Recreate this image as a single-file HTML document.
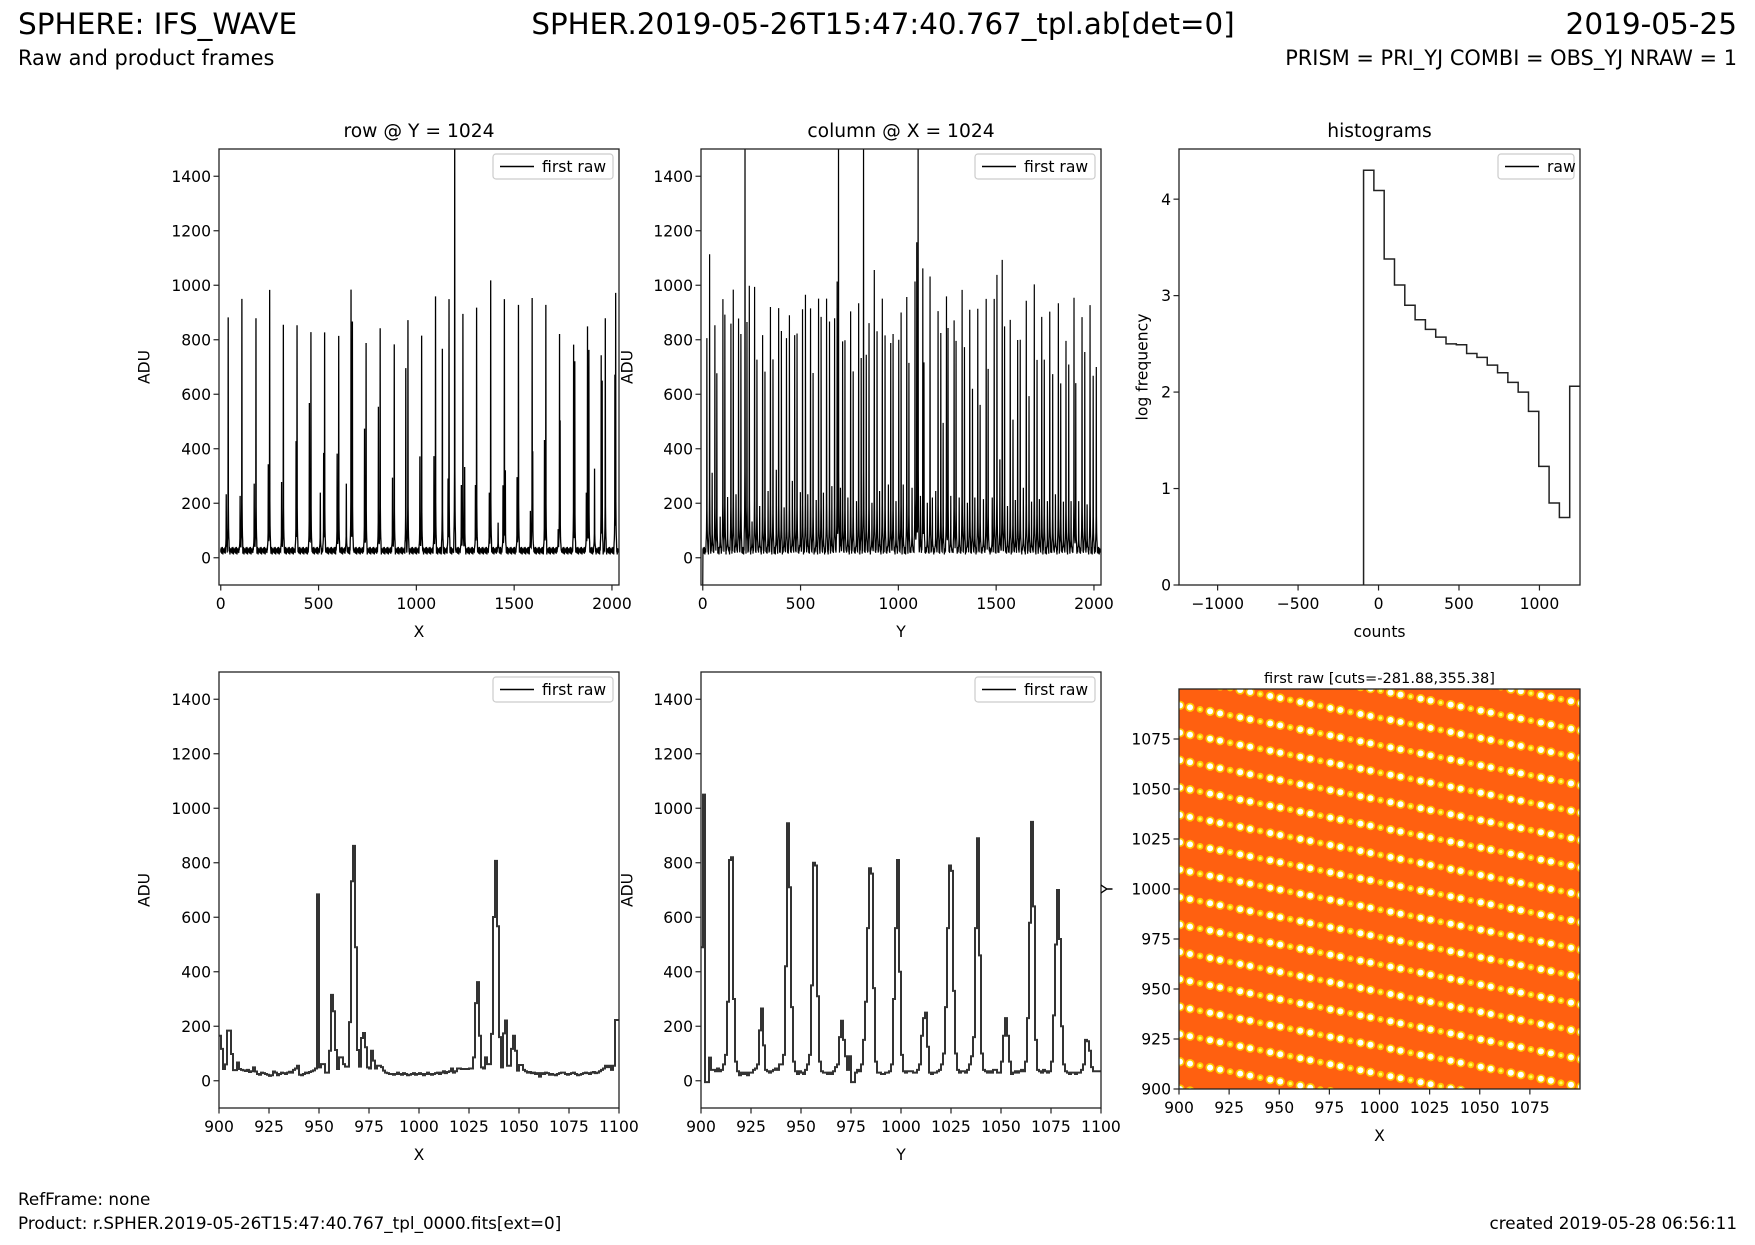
<!DOCTYPE html>
<html><head><meta charset="utf-8"><style>
html,body{margin:0;padding:0;background:#fff}
svg{display:block;font-family:"DejaVu Sans","Liberation Sans",sans-serif}
</style></head><body>
<svg id="fig" width="1755" height="1245" viewBox="0 0 1755 1245" xmlns="http://www.w3.org/2000/svg">
<rect width="1755" height="1245" fill="#fff"/>
<text x="18" y="34" font-size="29.5">SPHERE: IFS_WAVE</text>
<text x="883" y="34" font-size="29.3" text-anchor="middle">SPHER.2019-05-26T15:47:40.767_tpl.ab[det=0]</text>
<text x="1737" y="34" font-size="29.5" text-anchor="end">2019-05-25</text>
<text x="18" y="65" font-size="20.9">Raw and product frames</text>
<text x="1737" y="65" font-size="20.9" text-anchor="end">PRISM = PRI_YJ COMBI = OBS_YJ NRAW = 1</text>
<text x="18" y="1205" font-size="16.8">RefFrame: none</text>
<text x="18" y="1229" font-size="16.8">Product: r.SPHER.2019-05-26T15:47:40.767_tpl_0000.fits[ext=0]</text>
<text x="1737" y="1229" font-size="16.8" text-anchor="end">created 2019-05-28 06:56:11</text>
<g id="plots"></g>
</svg>
<script>
// ---------- data ----------
const rowPeakX = [38,108,180,250,320,390,461,531,603,666,743,815,887,957,1027,1098,1133,1167,1196,1238,1308,1380,1450,1522,1592,1662,1732,1804,1875,1945,1966,2019];
const rowPeakH = [882,950,879,983,855,853,828,827,814,984,788,842,783,872,815,959,767,949,1600,895,918,1018,949,928,953,928,821,782,849,743,879,972];
const rowSubX = [28,99,171,243,311,385,453,509,526,595,642,673,735,806,878,946,1018,1090,1162,1230,1247,1302,1373,1418,1443,1455,1515,1583,1595,1655,1725,1735,1810,1869,1882,1911,1950,2015];
const rowSubH = [233,227,272,343,278,428,568,239,385,382,272,867,474,554,294,696,372,373,291,267,333,267,239,129,266,321,296,172,391,432,105,504,721,239,763,327,650,672];
const colPeakY = [-8,21,35,48,62,72,89,103,113,127,144,156,170,183,195,216,226,238,252,265,277,291,306,318,334,346,359,376,388,402,416,428,443,458,470,482,499,510,525,537,551,564,580,592,605,617,633,648,660,674,687,694,704,715,727,742,756,769,786,797,810,822,836,850,865,877,891,904,918,932,949,961,973,988,1002,1014,1025,1043,1054,1070,1085,1094,1101,1113,1125,1131,1148,1162,1174,1191,1203,1217,1229,1246,1254,1268,1285,1295,1311,1326,1338,1353,1365,1379,1391,1406,1418,1435,1449,1459,1480,1490,1504,1519,1531,1543,1558,1572,1586,1598,1610,1623,1639,1654,1668,1681,1695,1709,1721,1733,1746,1762,1774,1789,1803,1818,1830,1844,1857,1871,1883,1898,1907,1922,1939,1953,1965,1980,1996,2012];
const colPeakH = [879,806,1114,312,853,677,151,949,892,223,859,984,233,878,821,1600,865,998,133,994,727,190,817,683,245,920,728,323,916,832,185,806,890,282,817,823,241,912,965,233,915,678,212,951,884,239,951,867,263,879,1014,1600,257,794,798,221,904,684,208,934,733,1600,745,861,202,1056,831,245,951,816,269,788,821,208,800,900,269,957,715,257,1014,1158,1600,227,1062,717,202,1032,221,245,905,825,495,959,843,227,871,796,221,983,773,202,910,620,221,914,561,215,950,693,221,950,1038,361,1093,849,190,873,507,212,799,800,257,943,593,206,1003,726,215,884,727,208,903,674,233,934,640,206,796,709,208,954,641,208,883,755,196,927,668,700];
const baselineRipple = [22,34,18,38,27,15,31,24,40,20,29,12,35,26,30,19,33,23];
const zoomRowVals = [165,117,43,60,184,184,98,39,39,67, 43,40,38,36,40,32,35,49,34,25, 22,30,28,25,22,18,20,34,30,20, 25,30,28,25,30,33,30,40,45,55, 22,20,25,30,28,32,35,38,45,684, 49,61,61,30,30,110,315,255,113,43, 86,86,61,52,52,215,732,862,490,113, 52,157,175,123,49,45,110,74,45,55, 55,50,37,30,28,25,25,22,25,30, 25,22,28,25,20,22,25,28,22,25, 28,25,20,25,30,25,22,25,28,30, 25,30,35,28,32,35,45,30,35,45, 45,43,43,43,43,45,45,86,285,362, 165,49,45,86,61,61,172,601,807,567, 160,49,174,221,55,55,117,165,110,37, 58,58,40,35,30,32,28,30,25,28, 15,28,25,30,28,22,25,22,20,25, 28,30,30,25,22,25,28,30,25,20, 22,25,28,30,28,25,30,32,28,30, 35,40,45,55,50,55,40,55,223,223];
const zoomColVals = [490,1050,-5,-5,85,40,40,35,45,35, 40,60,95,290,810,820,300,70,35,20, 30,25,30,20,30,30,40,45,60,185, 265,130,40,35,30,35,40,45,40,60, 60,95,420,945,710,270,70,35,25,35, 30,25,40,60,95,350,800,790,310,70, 35,30,30,25,30,25,35,50,60,160, 220,150,90,40,90,-5,-5,30,40,35, 60,150,290,560,780,760,340,70,30,30, 25,25,30,30,35,60,300,560,810,400, 95,35,30,35,35,35,30,30,40,60, 165,230,250,125,30,25,30,30,35,40, 60,100,270,560,790,770,330,100,40,30, 35,35,30,40,60,90,160,560,890,460, 100,40,35,30,35,30,40,40,30,30, 70,165,230,165,70,25,30,35,30,35, 40,35,70,230,580,950,640,150,40,35, 30,40,35,30,35,70,240,500,700,520, 200,60,35,30,25,30,30,25,30,30, 40,60,150,145,110,50,35,35,35,35];
const histEdges0 = -93, histBinW = 64.05;
const histVals = [4.3,4.09,3.38,3.11,2.9,2.75,2.65,2.57,2.5,2.49,2.4,2.36,2.28,2.2,2.1,2.0,1.8,1.23,0.85,0.7,2.06];
const spotRowY0 = [1133,1119.3,1105.6,1091.9,1078.2,1064.5,1050.8,1037.1,1023.4,1009.7,996,982.3,968.6,954.9,941.2,927.5,913.8,900.1,886.4];
const spotSlope = -0.2, spotDX = 5;
const spotPattern = [1,1,0.5];
const adTicks = [0,200,400,600,800,1000,1200,1400];
const fullXTicks = [0,500,1000,1500,2000];
const zoomXTicks = [900,925,950,975,1000,1025,1050,1075,1100];
const histXTicks = [-1000,-500,0,500,1000];
const histYTicks = [0,1,2,3,4];
const imgTicks = [900,925,950,975,1000,1025,1050,1075];

// ---------- helpers ----------
const NS='http://www.w3.org/2000/svg';
const root=document.getElementById('plots');
function mk(tag,attrs,parent){const e=document.createElementNS(NS,tag);for(const k in attrs)e.setAttribute(k,attrs[k]);(parent||root).appendChild(e);return e;}
function lin(d0,d1,r0,r1){return v=>r0+(v-d0)/(d1-d0)*(r1-r0);}
let clipN=0;
function axes(o){
  const g=mk('g',{});
  
  
  const sx=lin(o.xd[0],o.xd[1],o.x0,o.x1), sy=lin(o.yd[0],o.yd[1],o.y1,o.y0);
  const cid='c'+(clipN++);
  const cp=mk('clipPath',{id:cid},g); mk('rect',{x:o.x0,y:o.y0,width:o.x1-o.x0,height:o.y1-o.y0},cp);
  const plot=mk('g',{'clip-path':'url(#'+cid+')'},g);
  return {g,sx,sy,plot,o};
}
function frame(A,xt,yt,xlab,ylab,ylabX,title,titleSize){
  const o=A.o,g=A.g;
  mk('rect',{x:o.x0,y:o.y0,width:o.x1-o.x0,height:o.y1-o.y0,fill:'none',stroke:'#222','stroke-width':1.3},g);
  xt.forEach(v=>{const x=A.sx(v);
    mk('line',{x1:x,x2:x,y1:o.y1,y2:o.y1+5.5,stroke:'#222','stroke-width':1.2},g);
    const l=mk('text',{x:x,y:o.y1+24,'font-size':15.6,'text-anchor':'middle'},g);l.textContent=String(v).replace('-','\u2212');
    
    });
  yt.forEach(v=>{const y=A.sy(v);
    mk('line',{x1:o.x0-5.5,x2:o.x0,y1:y,y2:y,stroke:'#222','stroke-width':1.2},g);
    const l=mk('text',{x:o.x0-8,y:y+5.6,'font-size':15.6,'text-anchor':'end'},g);l.textContent=v;
    
    });
  const xl=mk('text',{x:(o.x0+o.x1)/2,y:o.y1+52,'font-size':15.6,'text-anchor':'middle'},g);xl.textContent=xlab;
  
  
  const cy=(o.y0+o.y1)/2;
  const yl=mk('text',{x:ylabX,y:cy,'font-size':15.6,'text-anchor':'middle',transform:'rotate(-90 '+ylabX+' '+cy+')','dominant-baseline':'middle'},g);yl.textContent=ylab;
  
  
  if(title){const t=mk('text',{x:(o.x0+o.x1)/2,y:o.y0-(titleSize>16?12:6),'font-size':titleSize,'text-anchor':'middle'},g);t.textContent=title;
    
    }
}
function legend(A,label,w){
  const o=A.o;const x=o.x1-6-w,y=o.y0+5;
  const lg=mk('g',{},A.g);
  
  
  mk('rect',{x:x,y:y,width:w,height:25,rx:3,fill:'#fff','fill-opacity':0.85,stroke:'#ccc','stroke-width':1.2},lg);
  mk('line',{x1:x+7,x2:x+41,y1:y+12.5,y2:y+12.5,stroke:'#000','stroke-width':1.5},lg);
  const t=mk('text',{x:x+49,y:y+18,'font-size':15.6},lg);t.textContent=label;
}
function stepPath(A,xs,vals,sw,col,name){
  let d='';
  for(let i=0;i<vals.length;i++){
    const xa=A.sx(xs[i]-0.5),xb=A.sx(xs[i]+0.5),y=A.sy(vals[i]);
    d+=(i?'L':'M')+xa.toFixed(2)+','+y.toFixed(2)+'L'+xb.toFixed(2)+','+y.toFixed(2);
  }
  const p=mk('path',{d:d,fill:'none',stroke:col,'stroke-width':sw,'stroke-linejoin':'miter'},A.plot);
  
  
}
function fullSeries(px,ph,sx2,sh2){
  const v=[];for(let i=0;i<2048;i++)v.push(baselineRipple[i%baselineRipple.length]);
  function put(c,h){c=Math.round(c);if(c<0||c>2047)return;
    v[c]=Math.max(v[c],h);
    [[1,0.3],[2,0.15],[3,0.09],[4,0.06]].forEach(([d,f])=>{[c-d,c+d].forEach(j=>{if(j>=0&&j<2048)v[j]=Math.max(v[j],30+f*h*0.6);});});}
  px.forEach((c,i)=>put(c,ph[i]));
  if(sx2)sx2.forEach((c,i)=>put(c,sh2[i]));
  return v;
}
function linePath(A,vals,sw,name){
  let d='';for(let i=0;i<vals.length;i++)d+=(i?'L':'M')+A.sx(i).toFixed(2)+','+A.sy(vals[i]).toFixed(2);
  const p=mk('path',{d:d,fill:'none',stroke:'#000','stroke-width':sw},A.plot);
  
  
}

// ---------- panel 1: row ----------
const A1=axes({name:'row-profile-panel',x0:219,x1:619,y0:149,y1:585,xd:[-9,2036],yd:[-100,1500]});
const rowVals=fullSeries(rowPeakX,rowPeakH,rowSubX,rowSubH);
linePath(A1,rowVals,1.3,'row-profile-line');
frame(A1,fullXTicks,adTicks,'X','ADU',145,'row @ Y = 1024',18.7);
legend(A1,'first raw',120);

// ---------- panel 2: column ----------
const A2=axes({name:'column-profile-panel',x0:701,x1:1101,y0:149,y1:585,xd:[-9,2036],yd:[-100,1500]});
const colVals=fullSeries(colPeakY,colPeakH);
colVals[0]=-100;
linePath(A2,colVals,1.2,'column-profile-line');
frame(A2,fullXTicks,adTicks,'Y','ADU',628,'column @ X = 1024',18.7);
legend(A2,'first raw',120);

// ---------- panel 3: histogram ----------
const A3=axes({name:'histogram-panel',x0:1179,x1:1580,y0:149,y1:585,xd:[-1240,1252],yd:[0,4.52]});
{
  let d='M'+A3.sx(histEdges0)+','+A3.sy(0);
  histVals.forEach((v,i)=>{const a=A3.sx(histEdges0+i*histBinW),b=A3.sx(histEdges0+(i+1)*histBinW),y=A3.sy(v);d+='L'+a.toFixed(2)+','+y.toFixed(2)+'L'+b.toFixed(2)+','+y.toFixed(2);});
  const p=mk('path',{d:d,fill:'none',stroke:'#222','stroke-width':1.5},A3.plot);
  
  
}
frame(A3,histXTicks,histYTicks,'counts','log frequency',1143,'histograms',18.7);
legend(A3,'raw',76);

// ---------- panel 4: zoom row ----------
const zx=[];for(let i=0;i<zoomRowVals.length;i++)zx.push(900+i);
const A4=axes({name:'row-zoom-panel',x0:219,x1:619,y0:672,y1:1108,xd:[900,1100],yd:[-100,1500]});
stepPath(A4,zx.map(v=>v+0.5),zoomRowVals,2,'#333','row-zoom-line');
frame(A4,zoomXTicks,adTicks,'X','ADU',145,null,0);
legend(A4,'first raw',120);

// ---------- panel 5: zoom column ----------
const zy=[];for(let i=0;i<zoomColVals.length;i++)zy.push(900+i);
const A5=axes({name:'column-zoom-panel',x0:701,x1:1101,y0:672,y1:1108,xd:[900,1100],yd:[-100,1500]});
stepPath(A5,zy.map(v=>v+0.5),zoomColVals,2,'#333','column-zoom-line');
frame(A5,zoomXTicks,adTicks,'Y','ADU',628,null,0);
legend(A5,'first raw',120);

// ---------- panel 6: image ----------
const A6=axes({name:'raw-image-panel',x0:1179,x1:1580,y0:689,y1:1089,xd:[900,1100],yd:[900,1100]});
{
  const bg=mk('rect',{x:1179,y:689,width:401,height:400,fill:'#ff6010'},A6.plot);
  
  
  const ppu=(A6.sx(1)-A6.sx(0));
  spotRowY0.forEach((y0,r)=>{
    for(let k=0;k<41;k++){
      const X=900.5+k*spotDX, Y=y0+spotSlope*(X-900);
      if(Y<895||Y>1105)continue;
      const I=spotPattern[k%spotPattern.length];
      const cx=A6.sx(X),cy=A6.sy(Y);
      const h=mk('circle',{cx:cx,cy:cy,r:(I>0.8?2.3:1.7)*ppu,fill:'#ffc800'},A6.plot);
      
      
      const c=mk('circle',{cx:cx,cy:cy,r:(I>0.8?1.5:0.8)*ppu,fill:I>0.8?'#ffffff':'#ffff60'},A6.plot);
      
      
    }
  });
}
frame(A6,imgTicks,imgTicks,'X','Y',1108,'first raw [cuts=-281.88,355.38]',14.6);
</script>
</body></html>
